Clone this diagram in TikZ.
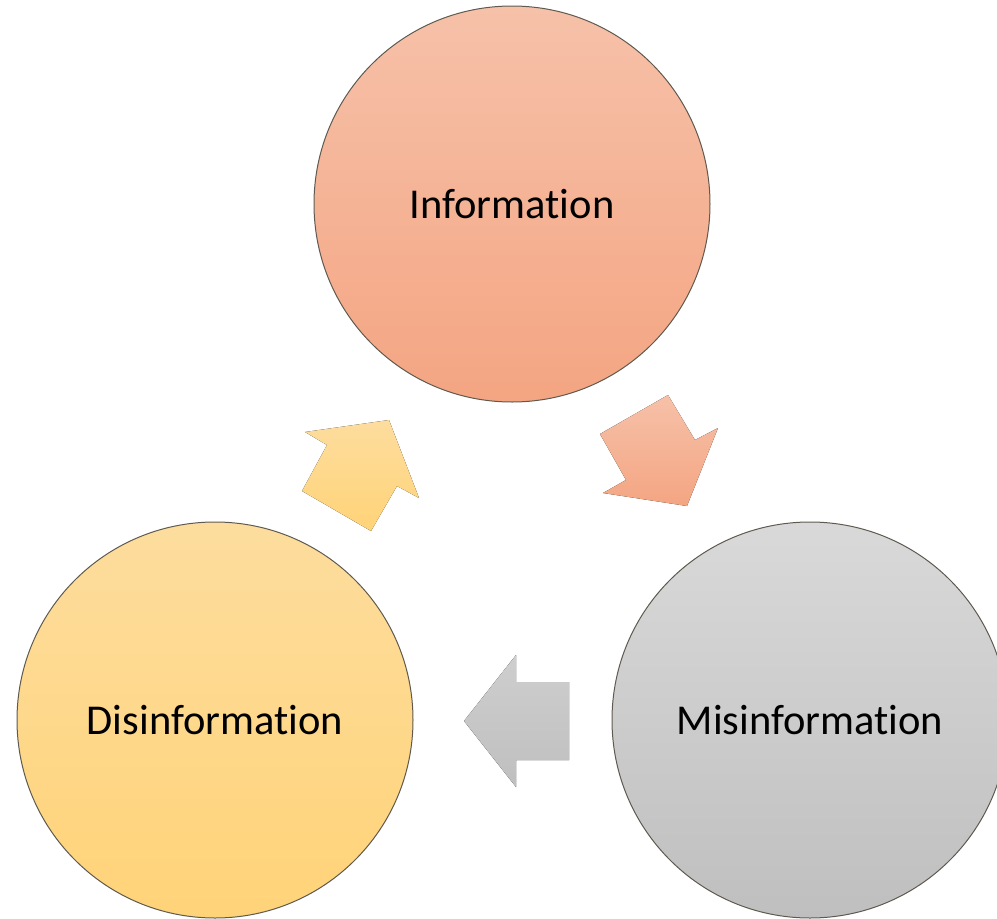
\documentclass[tikz,border=0pt]{standalone}
\usepackage{fontspec}
\setmainfont{Carlito}[Ligatures=NoCommon]
\definecolor{infoTop}{RGB}{246,193,169}
\definecolor{infoBot}{RGB}{244,165,130}
\definecolor{misTop}{RGB}{217,217,217}
\definecolor{misBot}{RGB}{191,191,191}
\definecolor{disTop}{RGB}{253,221,158}
\definecolor{disBot}{RGB}{255,211,120}
\definecolor{rimcol}{RGB}{95,90,80}
\begin{document}
\begin{tikzpicture}[x=1pt,y=-1pt,
  bubble/.style={circle, minimum size=396pt, inner sep=0pt, draw=rimcol, line width=1pt,
    font=\fontsize{42.5}{48}\selectfont},
  blockarrow/.style={draw=none}]
\useasboundingbox (0,0) rectangle (997,919);
\clip (0,0) rectangle (997,919);
\node[bubble, top color=infoTop, bottom color=infoBot] (info) at (512,204) {Informat\kern0pt ion};
\node[bubble, top color=misTop, bottom color=misBot] (mis) at (810,720) {Misinformat\kern0pt ion};
\node[bubble, top color=disTop, bottom color=disBot] (dis) at (215,720) {Disinformat\kern0pt ion};
% orange arrow (Information -> Misinformation)
\fill[blockarrow, top color=infoTop, bottom color=infoBot]
  (668,395) -- (695,440) -- (718,428) -- (687,506) -- (603,493) -- (626,480) -- (600,434) -- cycle;
% gray arrow (Misinformation -> Disinformation)
\fill[blockarrow, top color=misTop!95!black, bottom color=misBot]
  (464,721) -- (516,655) -- (516,682) -- (569,682) -- (569,760) -- (516,760) -- (516,787) -- cycle;
% yellow arrow (Disinformation -> Information)
\fill[blockarrow, top color=disTop, bottom color=disBot]
  (305,432) -- (389,420) -- (419,498) -- (397,486) -- (371,531) -- (302,491) -- (327,445) -- cycle;
\end{tikzpicture}
\end{document}
